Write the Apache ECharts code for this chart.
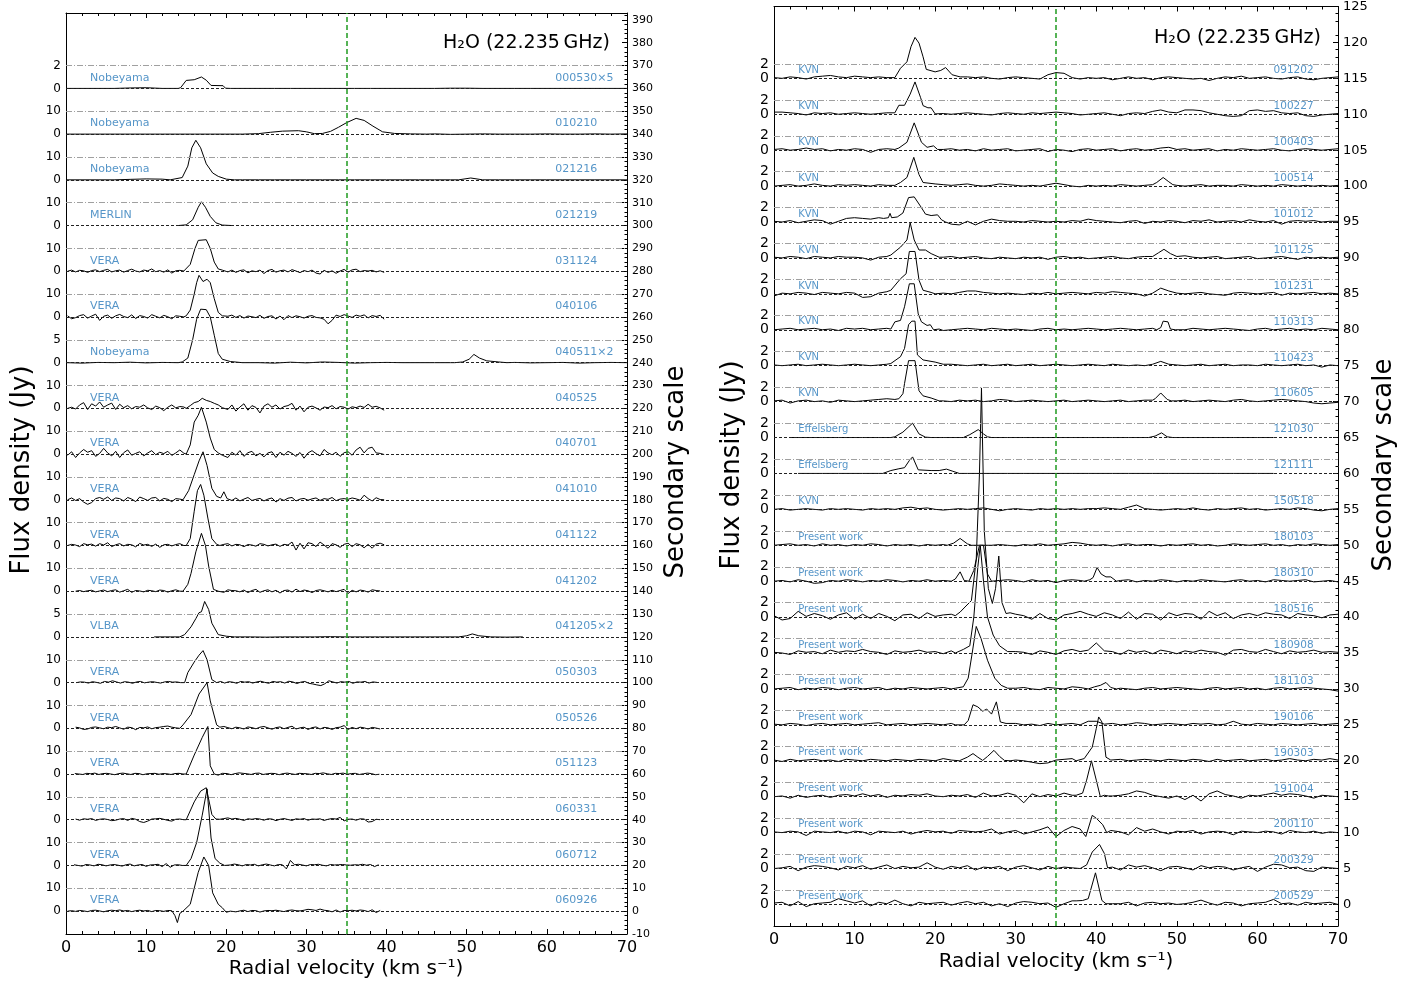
<!DOCTYPE html>
<html><head><meta charset="utf-8">
<script src="https://cdn.jsdelivr.net/npm/echarts@6/dist/echarts.min.js"></script>
<style>html,body{margin:0;padding:0;background:#fff}#c{width:1425px;height:984px}</style>
</head><body><div id="c"></div>
<script>
// ---------------- LEFT PANEL DATA (flux in plotted units, relative to baseline) ----------------
const leftDates = ['000530×5','010210','021216','021219','031124','040106','040511×2','040525','040701','041010','041122','041202','041205×2','050303','050526','051123','060331','060712','060926'];
const leftTels = ['Nobeyama','Nobeyama','Nobeyama','MERLIN','VERA','VERA','Nobeyama','VERA','VERA','VERA','VERA','VERA','VLBA','VERA','VERA','VERA','VERA','VERA','VERA'];
const leftBases = [360,340,320,300,280,260,240,220,200,180,160,140,120,100,80,60,40,20,0];
const leftLevelLabels = ['2','10','10','10','10','10','5','10','10','10','10','10','5','10','10','10','10','10','10'];
const leftStarts = [0,0,0,14,0.2,0.2,0,0.2,0.2,0.2,0.2,1.2,11,1.3,1.2,1.1,1.2,1.0,0.2];
const leftSteps  = [2,2,2,1,0.5,0.5,2,0.5,0.5,0.5,0.5,0.5,2,0.5,0.5,0.5,0.5,0.5,0.5];

const n000530 = [0,0,0,0,0.2,0.3,0,0,0, 0,0,0,0,0,0,0,0,0, 0,0,0,0,0,0,0.1,0.1,0,0, 0,0,0,0,0,0,0,0];
const p000530 = [[[14,0],[14.3,0.3],[15,3.5],[16,3.8],[16.9,5.0],[17.5,3.6],[18.1,1.3],[19.6,1.2],[19.9,0.1],[20.5,0]]];
const n010210 = [0,0,0,0,0,0,0,0,0,0, 0,0.1,0,0,0,0,0,0,0,0, 0,0,0,0.1,-0.1,0,0.1,0,0,0, 0.1,0,0,0.1,0,0.1];
const p010210 = [[[22,0],[24,0.2],[25.5,0.8],[27,1.3],[29,1.5],[30,1.0],[31,0.2],[32,0.3],[33,1.2],[34,3],[35,5],[36.2,6.9],[37.2,6],[38.3,3.5],[39.5,1.0],[41,0.3],[43,0.1],[45,0]]];
const n021216 = [0,0,0,0,0.2,0.4,0.3,0,0,0, 0,0,0,0,0,0,0,0,0,0, 0,0,0,0,0,0,0,0,0,0, 0,0,0,0,0,0];
const p021216 = [[[13,0],[14.5,1],[15.2,6],[15.7,14],[16.2,17.3],[16.8,14],[17.5,7],[18.3,3],[19,1.5],[20,0.3],[21,0]],[[49,0],[50.5,0.8],[52,0]]];
const n021219 = [];
const p021219 = [[[14,0],[15,0.3],[15.8,2.5],[16.5,8],[16.9,10.4],[17.4,8],[18,4],[18.7,1.2],[19.5,0.2],[20.7,0]]];
const n031124 = [0,0.5,-0.3,0.4,0.2,-0.5,0.3,0.6,-0.2,0.4, 0.8,-0.3,0.2,0.5,-0.4,0.3,0.9,0.1,-0.3,0.5, 0.2,1.0,-0.2,0.3,-0.4,0.6,-0.8,0.2,0.4,0.1, 0,0,0,0,0,0,0,0,0,0.6, -0.3,0.5,-0.5,0.3,0.6,-0.7,0.2,-0.2,0.5,-1.0, 0.3,0.8,-0.4,0.2,0.5,-0.3,0.7,0.1,-0.6,0.3, -0.2,0.5,-0.8,-1.2,0.4,-0.5,0.2,-0.9,0.1,0.8, -0.4,0.6,0.9,-0.2,0.3,0.1,0.4,-0.3,0.2,-0.5];
const p031124 = [[[14.8,0],[15.5,3],[16.1,10],[16.5,13.5],[17.5,13.8],[18,10],[18.5,4],[19,1],[19.5,0.5]]];
const n040106 = [0.5,-0.8,-0.3,0.6,1.0,-0.5,0.4,1.2,-1.5,0.3, 0.8,-0.6,0.5,1.1,0.2,-0.3,0.9,-0.7,0.6,0.2, -0.5,1.0,0.3,-0.4,0.7,0.1,-0.8,0.5,0.3,0, 0,0,0,0,0,0,0,0,0,1.0, 0.3,0.8,-0.2,0.6,-0.5,0.4,0.1,-0.3,0.7,-0.6, 0.2,0.5,-0.9,0.4,-1.2,0.6,-0.3,0.5,0.1,-0.5, 0.3,0.6,-0.2,-0.4,-1.0,-3.0,-1.5,0.8,0.2,1.0, 0.4,-0.2,0.8,0.3,0.9,-0.4,0.6,0.2,0.7,-1.0];
const p040106 = [[[15,0.5],[15.5,3],[16,10],[16.3,15],[16.6,18.2],[17.1,15.5],[17.6,16.5],[18,15],[18.5,8],[19,2],[19.5,0.5]]];
const n040511 = [0,-0.2,0.1,0,0.2,-0.1,0.1,0,0,0, 0,0,0,-0.2,0.2,-0.1,0.3,0.1,-0.2,0, 0.1,0,0,0,0,0,0,0,0.1,-0.1, 0,0.1,-0.2,0,0.1,0];
const p040511 = [[[14,0],[14.5,0.3],[15.2,2],[15.8,10],[16.3,19],[16.8,23.4],[17.5,23.2],[18,20],[18.5,12],[19,4],[19.5,1.5],[20.5,0.5],[22,0]],[[48.5,0],[49.5,0.3],[50.3,1.5],[50.9,3.6],[51.6,2],[52.5,0.8],[54,0.3],[55,0]]];
const n040525 = [0,0.5,-0.3,1.5,2.5,-0.5,2.0,1.0,2.8,0.5, 1.5,2.3,-0.5,1.8,0.3,1.2,-0.2,0.8,0.5,1.5, 0.2,-0.5,1.0,0.3,-1.0,0.5,1.5,0.2,0.8,0.6, 0,0,0,0,0,0,0,0,0,0.5, -0.5,1.5,-1.2,0.6,2.0,-0.8,1.2,0.4,-2.0,1.0, 2.0,0.5,1.5,-0.3,0.8,1.2,2.2,-0.8,1.0,-1.5, 0.5,1.0,0.2,-0.8,0.6,0.3,1.2,-0.2,0.8,0.5, -0.3,0.7,0.3,1.0,0.4,1.8,0.5,0.9,0.2,-0.8];
const p040525 = [[[15,0],[15.5,1.2],[16,2.5],[16.5,3],[17,4.4],[17.5,3.5],[18,3],[18.5,2.2],[19,1.5],[19.5,0.3]]];
const n040701 = [-0.5,1.0,-1.5,0.5,2.0,0.8,1.5,-1.0,0.3,2.5, 0.5,-0.8,1.2,-1.5,0.6,1.8,-0.5,0.3,1.0,-0.8, 0.5,1.5,-0.3,0.8,0.2,1.2,-0.6,0.5,1.8,0.4, 0,0,0,0,0,0,0,0,0,-0.5, -1.5,0.8,-0.5,1.5,-1.0,0.6,1.2,-0.8,0.3,-1.2, 0.5,1.0,-1.5,0.8,-0.5,1.2,0.3,-1.0,0.7,-1.8, 0.5,1.5,0.2,-0.8,2.0,0.5,-0.3,0.8,-1.0,0.6, 1.0,-0.5,1.8,3.0,0.5,2.5,3.0,0.5,0.3,-0.2];
const p040701 = [[[15,0],[15.5,4],[16,14],[16.5,17],[16.9,20.5],[17.5,14],[18,7],[18.5,2],[19,0.5],[19.5,-0.5]]];
const n041010 = [0,0.8,-0.3,0.5,-1.0,-2.0,-1.2,0.5,1.0,0.2, 1.2,-0.3,0.8,0.5,-0.5,1.0,0.3,-0.8,1.2,0.5, -0.3,0.8,1.0,-0.5,0.6,0.2,-0.8,0.5,0.3,0, 0,0,0,0,0,0,0,0,0,0, 0.5,-0.3,0.8,-0.5,0.3,1.0,-0.3,0.2,0.6,-0.5, 0.3,0.8,-1.0,0.5,-0.3,0.7,1.0,-0.5,0.3,0.6, -0.2,0.4,0.8,-0.3,0.5,0.2,1.0,-0.4,0.3,0.5, 0.2,0.8,0.4,-0.2,2.0,0.5,-0.5,0.9,0.1,0];
const p041010 = [[[14.6,0],[15.3,4],[16,11],[16.6,17],[17.1,21],[17.6,15],[18.2,5],[18.8,1.5],[19.3,0.8],[19.7,3.5],[20.1,0.5]]];
const n041122 = [0,0.5,0.2,-0.5,0.8,0.3,0.6,-0.3,0.8,0.2, 1.2,-0.5,0.3,0.8,-0.2,0.5,0.3,-0.6,0.9,0.2, 0.5,-0.4,0.6,-0.8,0.3,0.5,-0.2,0.4,0.8,0, 0,0,0,0,0,0,0,0,0,0.5, 0.8,-0.2,0.5,0.3,-0.5,0.4,0.2,-0.3,0.8,0.5, -0.2,0.3,0.6,-0.4,0.5,0.2,1.5,-2.0,1.0,-1.5, 1.2,0.8,-0.5,1.5,0.2,-1.2,0.8,0.3,-0.8,0.5, 1.0,-0.5,0.8,0.3,-1.0,0.5,-1.2,0.6,1.0,0.3];
const p041122 = [[[15,0],[15.5,3],[16,15],[16.4,24],[16.8,26.7],[17.2,22],[17.7,12],[18.2,3],[18.8,0.5],[19.2,0]]];
const n041202 = [0,0.3,-0.2,0.2,0.4,-0.3,0.1,0.5,-0.2,0.3, 0.6,-0.4,0.2,0.8,-0.5,0.3,0.1,-0.3,0.4,0.2, -0.2,0.5,0.3,-0.4,0.2,0.6,0,0,0,0, 0,0,0,0,0,0,0.8,-0.5,0.6,0.3, 0.2,-0.3,0.5,-0.6,0.3,0.8,-0.5,0.2,0.6,-0.3, 0.4,-0.8,0.3,0.5,-0.4,0.9,-0.2,0.5,0.2,-0.6, 0.3,0.6,0.2,-0.3,0.4,-0.2,0.3,0.8,-1.0,0.4, -0.3,0.5,0.2,-0.4,0.6,0.3,0.1];
const p041202 = [[[14.6,0],[15.2,3],[15.6,7.8],[16.2,17.2],[16.9,25.3],[17.4,20],[17.8,11],[18.4,0.8],[19,0]]];
const n041205 = [0,0,0,0,0,0,0,-0.1,0,0, 0,0.1,0,0,0,0,0,0,0,0, 0,0,-0.1,0];
const p041205 = [[[14.2,0],[14.8,1],[15.6,4.4],[16.2,8],[16.6,10.6],[16.9,11],[17.3,15.5],[17.8,12],[18.2,6],[19,1],[20,0.3],[21,0]],[[49,0],[50,0.5],[50.7,1.3],[51.5,0.5],[53,0]]];
const n050303 = [0,0.3,0.2,-0.2,0.4,0.1,-0.3,0.5,0.2,0.8, 0.3,-0.2,0.4,0.2,-0.3,0.3,0.5,-0.1,0.2,0.4, 0.1,-0.2,0.3,0.5,0.2,0.3,0,0,0,0, 0,0,0,0,0,0,0.3,-0.2,0.4,0.2, -0.3,0.5,0.2,0.4,-0.2,0.3,0.6,0.1,-0.3,0.5, 0.2,0.4,-0.2,0.6,0.3,-0.4,0.2,0.5,-0.3,-0.6, -1.0,-1.3,-0.5,0.8,0.3,-0.2,0.4,0.2,0.5,-0.3, 0.3,0.2,0.5,-0.2,0.3,0.1];
const p050303 = [[[15,0],[15.2,4.4],[16,9],[16.6,12],[17.1,14],[17.6,10],[18.2,1.3],[18.8,0],[19.3,0.5]]];
const n050526 = [0.5,0.2,-0.5,-0.3,0.4,0.6,0.2,-0.2,0.5,0.3, 0.8,0.2,-0.4,0.5,0.3,-0.6,0.4,0.2,0.6,-0.2, 0.3,0.5,0.8,1.0,0.5,0.2,0,0,0,0, 0,0,0,0,0,0,0.4,0.8,0.3,-0.2, 0.5,0.2,-0.3,0.6,0.3,-0.2,0.5,0.8,0.2,-0.4, 0.3,0.6,-0.2,0.4,0.9,-0.3,0.2,0.5,-0.5,0.3, 0.6,-0.3,0.4,0.2,-0.5,0.3,0.5,1.2,-0.5,0.4, -0.2,0.5,0.2,-0.3,0.4,0.1,-0.3];
const p050526 = [[[14.3,0],[14.6,1.5],[15.6,6],[16.6,15],[17.6,20],[18,12],[18.8,1.5],[19.2,0.5]]];
const n051123 = [0.2,0,-0.2,0.3,0.1,0.4,-0.2,0.2,0.3,0, -0.3,0.2,0.4,0.1,-0.2,0.3,0.2,-0.3,0.1,0.2, 0.3,-0.1,0.2,0.1,-0.2,0.2,0.3,0,0,0, 0,0,0,0,0,0,0,0.4,0.2,-0.3, 0.2,0.5,0.3,0.1,-0.2,0.3,0.4,-0.2,0.1,0.3, 0.2,-0.3,0.2,0.4,0.1,-0.2,0.3,0.2,0.1,-0.2, 0.3,0.2,0.5,0.1,-0.2,0.3,0.2,0.4,-0.1,0.2, 0.3,-0.2,0.1,0.4,0.2,-0.3,-0.1];
const p051123 = [[[15,0],[16,8.3],[17,16],[17.7,20.8],[18,3.6],[18.5,0],[19,-0.5],[19.5,0.3]]];
const n060331 = [0.3,-0.2,0.4,0.2,0.5,-0.3,0.2,0.4,0.1,-0.4, -0.2,0.3,0.5,-0.3,0.6,0.2,-0.8,-1.2,-0.6,0.3, 0.4,0.6,0.2,-0.3,-0.6,0.2,0.3,0,0,0, 0,0,0,0,0,0,0.2,0.5,0.8,0.3, 0.6,0.2,-0.3,0.4,0.2,0.5,0.3,-0.2,0.4,0.3, -0.4,0.2,0.5,0.1,-0.3,0.4,0.2,0.5,-0.2,0.3, 0.2,0.4,-0.3,0.2,0.5,0.3,1.0,-0.5,0.2,0.3, -0.2,0.4,0.3,-1.0,-0.8,0.2,0];
const p060331 = [[[15,0],[15.2,0.3],[16,7.8],[16.8,12.5],[17.5,14],[18.2,2.3],[18.7,0.3]]];
const n060712 = [0.3,0,-0.3,0.4,0.2,-0.2,0.5,0.3,-0.2,0.2, 0.4,0.1,-0.3,0.3,0.6,-0.2,0.2,0.4,-0.4,0.2, 0.3,0.5,-0.5,0.8,-0.8,0.2,0.3,0,0,0, 0,0,0,0,0,0,0,0,0.4,0.2, 0.6,0.3,-0.2,0.4,0.2,0.5,-0.2,0.3,0.6,0.2, -0.2,0.4,0.3,-1.5,2.2,0.3,0.5,0.2,-0.2,0.4, 0.3,0.5,0.1,-0.2,0.4,0.2,0.3,0.4,0.2,0.1, 0.3,0.2,0.5,0.1,0.4,-0.5,0.3];
const p060712 = [[[15,0],[15.6,3],[16.3,10],[17,22],[17.6,33.5],[18.1,12],[18.6,3],[19.2,1],[19.8,0]]];
const n060926 = [0,0.2,-0.1,0.3,0.1,-0.2,0.3,0.4,0.1,-0.3, 0.2,0.4,0.2,0.5,0.1,0.3,-0.2,0.2,0.4,0.1, 0.3,-0.2,0.3,0.2,-0.1,0.3,0.2,0,0,0, 0,0,0,0,0,0,0,0,0,0, 0,0.2,-0.3,0.1,0.4,-0.2,0.3,0.2,-0.4,0.1, 0.3,0.2,0.4,0.1,-0.2,0.3,0.5,0.2,0.1,0.4, 0.8,0.6,0.3,0.9,0.4,0.2,-0.3,0.5,-0.4,0.3, 0.2,0.4,0.1,0.5,0.3,-0.2,0.6,-0.6,0.3];
const p060926 = [[[13.3,0],[13.6,-2],[13.9,-5],[14.2,-1],[14.6,0],[15.5,3],[16,10],[16.5,17],[17.2,23.7],[17.8,20],[18.3,8],[19,3],[19.5,1.5],[20,-0.5],[20.5,0]]];

const leftNoise = [n000530,n010210,n021216,n021219,n031124,n040106,n040511,n040525,n040701,n041010,n041122,n041202,n041205,n050303,n050526,n051123,n060331,n060712,n060926];
const leftPeaks = [p000530,p010210,p021216,p021219,p031124,p040106,p040511,p040525,p040701,p041010,p041122,p041202,p041205,p050303,p050526,p051123,p060331,p060712,p060926];

// ---------------- RIGHT PANEL DATA (Jy relative to baseline) ----------------
const rightDates = ['091202','100227','100403','100514','101012','101125','101231','110313','110423','110605','121030','121111','150518','180103','180310','180516','180908','181103','190106','190303','191004','200110','200329','200529'];
const rightTels = ['KVN','KVN','KVN','KVN','KVN','KVN','KVN','KVN','KVN','KVN','Effelsberg','Effelsberg','KVN','Present work','Present work','Present work','Present work','Present work','Present work','Present work','Present work','Present work','Present work','Present work'];
const rightBases = [115,110,105,100,95,90,85,80,75,70,65,60,55,50,45,40,35,30,25,20,15,10,5,0];
const rightStarts = [0,0,0,0,0,0,0,0,0,0,2,3,0,0,0,0,0,0,0,0,0,0,0,0];
const rightStep = 1;

const r091202 = [0.1,0,0.2,0.1,-0.1,0.2,0.3,0.4,0.2,0.1, 0.3,0.2,0.1,0.2,0.1,0,0,0,0,0, 0,0,0,0,0.2,0.1,0.2,0,-0.1,0.1, 0.2,0.1,0,-0.1,0.5,0.8,0.7,0.1,-0.1,0.1, 0,0.1,-0.2,0,0.2,0,0.1,-0.2,0.1,0.2, 0.1,0,-0.1,0,-0.3,0,0.2,0.1,0.3,0, 0.1,0.2,0,-0.1,0.1,0.2,-0.1,-0.2,0,0.1,0.2];
const q091202 = [[[15,0.1],[15.7,1.4],[16.5,2.3],[17,4.4],[17.5,5.7],[18,4.9],[18.5,3],[18.9,1.25],[20,0.9],[20.7,1.1],[21.3,1.5],[22.1,0.5],[23.1,0.2]]];
const r100227 = [0.3,0.3,0.2,0.1,-0.1,0.2,0.1,0.2,0,0.1, 0.2,0.1,0,0.1,0.2,0,0,0,0,0, 0,0.1,0,0.1,0.2,0.1,0,-0.1,0.1,0.2, 0.1,0,0.2,0.1,0.2,0.3,0.2,0.1,-0.1,0, 0.1,0.2,0,-0.2,0.1,0.2,0.1,0.4,0.6,0.3, 0.2,0.6,0.6,0.5,0.2,0,-0.2,-0.3,-0.2,0.5, 0.6,0.4,0.5,0.2,0.1,0.2,-0.2,-0.3,-0.1,0,0.1];
const q100227 = [[[15,0.2],[15.5,1.25],[16.2,1.25],[16.9,2.8],[17.5,4.5],[18.2,2.3],[18.5,1.2],[19.1,0.9],[19.5,0.9],[20,0.05]]];
const r100403 = [0.1,0.2,0,0.1,0.3,0.1,0.2,-0.1,0.1,0, 0.2,0.1,-0.3,0.1,0.2,0,0,0,0,0, 0,0.1,0.2,0,0.1,-0.1,0.2,0,0.1,0.2, -0.1,0,0.1,0.2,-0.2,0.1,0,-0.2,0.1,0.2, 0,0.1,0.2,-0.1,0.1,0.2,0,0.1,0.3,0.4, 0.1,0.2,0,0.1,0.2,-0.1,0.1,0,0.2,0.1, 0,0.1,0.2,0,-0.1,0.1,0.2,0.1,0,0.1,0.2];
const q100403 = [[[15,0.1],[15.5,0.3],[16.5,1.1],[17.4,3.8],[18.3,1.1],[19,0.4],[19.8,0.6],[20.3,0.1]]];
const r100514 = [0,0.1,0.2,0,0.1,0.3,0.1,0,0.2,0.1, 0.2,0.1,0,0.2,0.1,0,0,0,0,0, 0.3,0.2,0.1,0.2,0.3,0.1,0,0.1,0.3,0.2, 0.1,0,0.1,0,0.2,0.4,0.2,0,-0.1,0.1, 0,0.1,0,0.2,0.1,0,0.1,0.3,0.8,0.4, 0.1,0,0.1,0.2,0,0.1,0.1,0,0.2,0.1, 0,0.1,0,0.2,0.1,0,0.1,0,0.1,0,0.1];
const q100514 = [[[15,0.1],[15.7,0.5],[16.5,1.2],[17.35,4.0],[18,1.6],[18.5,0.5],[20,0.3]],[[47,0.2],[47.5,0.5],[48.3,1.2],[49,0.6],[49.5,0.2]]];
const r101012 = [0.1,0,0.2,-0.1,0.1,0.3,0.2,-0.3,0.1,0.5, 0.6,0.5,0.4,0.6,0,0,0,0,0,0, 0,0,-0.3,-0.4,0.1,-0.4,0.1,0.4,0.2,0.1, 0.1,0,0.2,0.1,0,0.1,0,0.2,0.1,0.4, 0.2,0.1,0,-0.1,0.1,0.2,-0.2,0.1,0,0.2, 0.1,-0.1,0.2,0.1,0.3,0,0.1,0.2,0,0.3, 0.1,0,0.2,-0.3,0.1,0.2,0.1,0.2,0,0.1,0.1];
const q101012 = [[[13.6,0.5],[14.2,0.6],[14.4,1.2],[14.6,0.6],[15.3,0.7],[16,1.25],[16.7,3.4],[17.4,3.5],[18.3,2.0],[18.8,1.1],[19.5,0.9],[20.3,1.0],[20.8,0.3],[21.3,0]]];
const r101125 = [0.1,0,0.2,0.1,-0.1,0.2,0.1,0,0.2,0.1, 0.1,0,-0.3,0.1,0.2,0,0,0,0,0, 0,0.1,0.2,0,0.1,0.2,0,-0.1,0.1,0, -0.1,0.1,0,0.1,-0.2,0.1,0.2,0,0.1,-0.1, 0,0.1,0.2,0,-0.1,0.1,0.2,0.5,1.0,0.7, 0.2,0.3,0.1,0,0.1,0.2,-0.1,0,0.1,0.2, -0.1,0,0.1,0.2,0,-0.2,0.1,0,0.1,0,0.1];
const q101125 = [[[14.5,0.4],[15.7,1.5],[16.5,2.5],[16.9,4.9],[17.4,2.5],[18,1.1],[18.8,1.1],[19.5,0.6],[20.5,0.1]],[[47,0.2],[47.7,0.7],[48.4,1.2],[49.2,0.6],[50,0.2]]];
const r101231 = [-0.3,0.1,0,0.2,0.1,-0.1,0.2,0.1,0,0.2, 0.1,-0.5,-0.4,0.1,0.3,0,0,0,0,0, 0,0.1,0,0.2,0.4,0.4,0.2,0.1,0,0.1, 0,-0.1,0.1,0,0.2,0,0.1,0.2,0.1,0, 0.2,0.1,0.3,0.2,0.1,0,-0.3,0.1,0.8,0.4, 0.1,0,0.1,0.2,0,-0.1,-0.2,0.1,0.2,0.1, 0,0.1,0.2,-0.2,0.1,0,0.1,0.2,0,0.1,0];
const q101231 = [[[14.5,0.5],[15.7,2.1],[16.4,2.8],[16.8,5.9],[17.5,5.9],[18,1.9],[18.5,0.5],[19.5,0.2]]];
const r110313 = [0,0.1,0.2,0,0.1,0.2,0,0.1,-0.1,0.2, 0.1,0.2,0,0.1,0.2,0,0,0,0,0, 0,-0.1,0,0.1,0.2,0.1,0,0.2,0.1,0, 0.1,0,-0.1,0.1,0.2,0,0.1,0,0.1,0.2, 0.1,0,0.1,0.2,0.1,0,0.1,0.2,0,0, 0.1,0,0.2,0.1,0,0.1,0.2,0.1,0,-0.1, 0.1,0.2,0,0.1,0.2,0,0.1,0,0.2,0.1,0];
const q110313 = [[[14.5,0.1],[15,1.1],[15.7,1.3],[16.2,3.2],[16.8,6.4],[17.4,6.4],[17.9,2.2],[18.3,1.1],[19,0.6],[19.4,0.7],[19.8,0],[20.5,0.1]],[[47.5,0],[48,0.3],[48.3,1.2],[48.9,1.1],[49.2,0.1],[49.8,0]]];
const r110423 = [0.1,0,0.1,0.2,0,0.1,0.2,0.1,0,0.1, 0.2,0.1,0,0.1,0.2,0,0,0,0,0, 0,0,0.2,0.1,0,0.1,0.2,0,0.1,0.2, 0,0.1,0.2,0,0.1,0.2,0.1,0,0.1,0.2, 0.1,0,0.2,0.1,0,0.1,0,0.2,0.6,0.2, 0.1,0,0.1,0.2,0,0.1,0.2,0,0.1,0.1, 0,0.2,0.1,0,0.1,0.2,0,0.1,-0.2,0.1,0];
const q110423 = [[[14.5,0.3],[15.7,1.25],[16.2,2.4],[16.7,5.7],[17.1,6.2],[17.5,6.2],[17.8,1.5],[18.5,0.8],[20,0.5],[21,0.2]]];
const r110605 = [0.1,0.2,-0.2,0.1,0.2,0,0.1,-0.1,0.2,0.1, 0,0.1,0.2,0.3,0.4,0,0,0,0,0, 0,0.1,0,0.2,0.1,0.2,0,0.1,0.3,0.2, 0,0.1,0.2,0.1,0,0.1,0.2,0,0.1,0.2, 0.1,0,0.1,0.2,0,0.1,0.2,0.3,0.9,0.1, 0.1,0.2,0,0.1,0.2,0.1,0,0.2,0.3,0.1, 0,0.1,0.2,0.3,0.2,0.1,0,-0.2,-0.3,-0.2,-0.1];
const q110605 = [[[15,0.3],[15.5,0.4],[16,1.1],[16.2,2.5],[16.7,5.7],[17.5,5.7],[18,1.5],[18.5,0.8],[19.5,0.5],[20.5,0.1]],[[47,0.2],[47.3,0.4],[48,1.2],[48.8,0.3],[49.3,0.1]]];
const r121030 = [0,0,0,0,0,0,0,0,0,0, 0,0,0,0,0,0,0,0,0,0, 0,0,0,0,0,0,0,0,0,0, 0,0,0,0,0,0,0,0,0,0, 0,0,0,0,0,0,0,0,0,0, 0,0,0,0,0,0,0,0,0,0,0];
const q121030 = [[[14.5,0],[15,0.1],[16,0.75],[17.2,2.0],[18,0.5],[18.8,0.05],[19.5,0]],[[23.5,0],[24.3,0.4],[25.35,1.1],[26,0.5],[26.5,0.1],[27,0]],[[46.5,0],[47.3,0.2],[48.1,0.65],[48.8,0.1],[49.5,0]]];
const r121111 = [0,0,0,0,0,0,0,0,0,0, 0,0,0,0,0,0,0,0,0,0, 0,0,0,0,0,0,0,0,0,0, 0,0,0,0,0,0,0,0,0,0, 0,0,0,0,0,0,0,0,0,0, 0,0,0,0,0,0,0,0,0,0];
const q121111 = [[[13.5,0],[14.5,0.4],[15.5,0.65],[16.2,0.8],[16.8,1.8],[17.2,2.3],[17.9,0.5],[19.5,0.4],[20.5,0.4],[21.4,0.6],[22.2,0.3],[23,0],[24,0]]];
const r150518 = [0,0.1,-0.1,0,0.1,0,-0.1,0.1,0,0.1, 0,-0.1,0.1,0,0.1,0,0.2,0.3,0.1,0.2, 0,-0.1,0,0.1,0,0.1,0.2,0,-0.2,0, 0.1,0,-0.1,0.1,0,0.1,0,0.1,0,0.1, 0.1,0.2,0.1,0,0.3,0.6,0.1,0,-0.1,0, 0.1,0,0.2,0,-0.1,0.1,0,0.1,0.2,0, 0.1,-0.1,0,0.1,0,0.2,0.1,-0.1,-0.2,0,0.1];
const q150518 = [];
const r180103 = [0,0.1,0.2,0,0.1,-0.1,0.2,0,0.1,-0.1, 0.1,0,0.2,0.1,-0.1,0.1,0,0.1,-0.1,0.1, 0,0.1,0.2,0,0,0,0,0,0.1,0, -0.1,0.1,0,0.2,0,0.1,0.2,0.4,0.3,0.1, 0,0.1,-0.1,0.1,0.2,0,0.1,0.1,-0.1,0.1, 0,0.1,0.2,0,0.1,-0.1,0,0.2,0.1,0, 0.1,0.2,0,0.1,-0.1,0.1,0,0.2,0.1,0,0.1];
const q180103 = [[[21.5,0],[22.3,0.3],[23.1,0.95],[24,0.2],[24.5,0]]];
const r180310 = [0,0.1,-0.1,0.2,0,-0.3,-0.2,0.1,0,0.2, 0.1,-0.1,0.1,0,0.2,0.1,-0.1,0.1,0,0.2, 0,0.1,0,0,0,0,0,0,0,0.2, 0.1,-0.1,0.2,0,0.1,-0.2,0.1,0.2,0.1,0, 0,0,0,0.1,0.2,-0.1,0.1,0,0.2,0.1, -0.1,0.1,0,0.2,0.1,0,-0.1,0.1,0.2,0, 0.1,-0.1,0.2,0.1,0,0.1,0.2,-0.1,0,0.1,-0.1];
const q180310 = [[[22,0],[22.5,0.3],[23.1,1.3],[23.6,0.1],[24.2,0],[24.8,1.5],[25.5,5.0],[26.0,5.0],[26.5,1],[27,0],[28,0.1]],[[38.5,0],[39.2,0.2],[39.6,0.5],[40.1,1.9],[40.6,1],[41.2,0.6],[41.8,0.6],[42.5,0]]];
const r180516 = [0.2,-0.4,-0.2,0.8,0.1,0.5,0.2,-0.3,0.3,0.6, -0.3,0.4,-0.2,0.5,0.1,-0.5,0.3,0.4,-0.2,0.6, 0.1,0.3,0.4,0,0,0,0,0,0,0.6, 0.4,0.2,-0.3,0.5,-0.2,-0.4,0.3,0.5,0.8,0.4, 0.1,0.6,0.3,-0.2,0.7,-0.3,0.5,0.4,-0.4,0.6, 0.2,0.5,0.4,-0.3,0.8,0.2,0.6,-0.2,0.3,0.5, 0.2,0.6,0.4,0.3,-0.2,0.5,0.3,0.2,-0.1,0.3,0.4];
const q180516 = [[[22.5,0.2],[23.1,0.7],[23.7,1.4],[24.5,2.3],[25.1,8],[25.5,20],[25.75,31.9],[26.1,12],[26.6,4],[27.1,1.9],[27.5,4],[27.9,8.5],[28.3,2],[28.8,0.5],[29.3,0.6]]];
const r180908 = [0.1,0,-0.2,0.3,0.1,0.2,-0.1,0.4,0.1,0.3, 0.2,0.5,0.2,0.1,-0.2,0.3,0.1,0.2,0.4,0.1, 0.2,-0.1,0.3,0,0,0,0,0,0,0, 0.2,0.1,-0.2,0.3,0.1,-0.2,0.3,0.5,0.2,0.4, 1.4,0.3,0.2,-0.2,0.4,0.1,0.3,-0.1,0.4,0.2, -0.1,0.3,0.1,0.4,0.2,0.1,-0.3,0.4,0.5,0.2, 0.1,0.5,0.2,-0.1,0.3,0.1,0.2,0.4,0.1,0.2,0.1];
const q180908 = [[[22.5,0],[23.5,0.5],[24.3,1.0],[24.8,5],[25.3,12],[25.6,15],[26,10],[26.5,5],[27.2,2.5],[28,1],[29,0.2]]];
const r181103 = [0,0.1,0.2,-0.1,0.1,0,0.2,0.1,-0.1,0.1, 0.2,0,0.1,0.2,-0.1,0.1,0,0.2,0.1,0, 0.1,0.2,0,0,0,0,0,0,0,0, 0.1,0.2,0,-0.1,0.2,0.1,0,0.3,0.2,0.1, 0,0,0.2,0.1,0,-0.1,0.1,0.2,0,0.1, 0.2,0.1,0,-0.1,0.1,0.2,0,0.1,0.2,0, 0.1,-0.1,0.1,0.2,0,0.1,0.2,0.1,0,-0.1,-0.3];
const q181103 = [[[22.5,0.1],[23.5,0.3],[24.1,1.5],[24.6,5],[25.1,8.7],[25.7,7],[26.5,4],[27.4,1.5],[28.2,0.5],[29,0.1]],[[39,0],[39.8,0.3],[40.5,0.5],[41.2,0.9],[41.8,0.2],[42.5,0]]];
const r190106 = [0.1,0,0.2,0.1,-0.1,0.1,0.2,0,0.1,0.2, 0,0.1,0.2,0.3,0,0.1,0.2,0,0.1,0.2, 0.1,0,0.2,0,0,0,0,0,0,0.1, 0.2,0,0.1,-0.1,0.2,0,0.1,0.2,0,0.5, 0.5,0.1,0.2,0,0.1,0.3,0.2,0,0.1,0.2, 0.1,0,0.2,0.1,0.2,0,0.1,0.5,0.1,0, 0.2,0.1,0,0.2,0.1,0,0.1,0.2,0,0.1,0.2];
const q190106 = [[[22.5,0],[23.6,0],[24.1,0.6],[24.7,2.8],[25.3,2.5],[25.9,1.9],[26.4,2.2],[27.0,1.5],[27.6,3.2],[28.1,0.4],[28.8,0.2]]];
const r190303 = [0.1,-0.1,0.2,0,0.1,0.2,0,0.1,-0.1,0.2, 0.1,0,0.2,0.1,0,0.2,0.1,0,0.2,0.1, 0,0.3,0.1,0,0,0,0,0,0,0, 0.1,0,-0.2,-0.4,-0.3,0.1,0.2,0.3,0,0, 0,0,0.1,0.2,0,0.1,0.2,0.1,0,0.2, 0.1,0,0.2,0.1,-0.1,0.2,0,0.1,0.2,0, 0.1,0.2,0,0.1,0.3,0.1,0,0.2,0.1,0.3,0.1];
const q190303 = [[[23,0],[24,0.5],[24.7,1.0],[25.3,0.5],[25.9,0.05],[26.5,0.6],[27.3,1.45],[28,0.6],[28.6,0.05],[29.3,0]],[[37.5,0],[38.5,0.3],[39.5,1.9],[40.0,4.5],[40.3,6.1],[40.7,5.4],[41.2,0.5],[41.8,0.1]]];
const r191004 = [0,0.1,-0.2,0.2,-0.1,0.1,0.2,-0.1,0.2,0.3, 0.1,0.4,0.1,0.3,-0.1,0.2,0.1,0.3,0.2,0.4, 0.1,0,0.2,0.1,0.3,-0.1,0.5,0.1,0.2,0.5, 0.2,-0.85,0.4,0,0.3,0.1,0.5,0.2,0,0, 0,0,0.1,0.2,0.4,0.8,0.6,0.2,0,-0.2, 0.1,-0.4,0.2,-0.6,0.4,0.8,0.3,0.1,-0.2,0.2, 0.1,0.3,0.5,0.2,0.4,0.3,0.1,-0.2,0.2,0.1,0];
const q191004 = [[[37.5,0.2],[38.3,0.5],[38.8,2.3],[39.4,5.0],[40.0,2.3],[40.5,0],[41,0.2],[41.5,0.1]]];
const r200110 = [0.1,0,0.2,0.1,-0.4,0.2,0.1,0,0.2,-0.1, 0.2,0.1,-0.3,0.2,0.1,0,0.2,-0.2,0.1,0.3, 0.1,0.2,-0.1,0.3,0.2,0.1,0.2,0.5,-0.2,0.1, 0.3,-0.2,0.1,0.4,0.8,-0.55,0.3,0.85,0,0, 0,0,0.5,0.1,-0.3,0.7,0.2,0.5,0.1,-0.2, 0.2,0.1,0.3,-0.2,0.1,0.2,0.1,-0.3,0.2,0.1, 0,0.2,0.1,-0.2,0.3,0.1,0,0.2,-0.1,0.1,0];
const q200110 = [[[38,0.5],[38.7,-0.55],[39.5,2.4],[40,2.0],[40.8,1.1],[41.3,0],[41.8,0.3]]];
const r200329 = [0,0.1,0.3,-0.3,0.2,0.4,0.3,0.1,-0.2,0.3, 0.1,0.4,-0.1,0.2,0.5,0,0.3,0.1,0.2,0.8, 0.2,-0.1,0.3,0.1,0.4,-0.2,0.2,0.1,0.3,-0.3, 0.2,0.4,0.1,-0.2,0.3,0,0.2,0.1,0,0, 0,0,0.3,-0.2,0.5,0.2,0.4,0.1,-0.3,0.2, 0.3,0.1,-0.2,0.4,0.1,0.3,0.2,-0.2,0.1,0.3, -0.4,0.2,0.6,0.5,0.1,0.2,-0.3,-0.4,0.2,0.1,0];
const q200329 = [[[38,0],[38.8,0.5],[39.5,2.3],[40.4,3.35],[41.0,2.1],[41.4,0.1],[42,0.2]]];
const r200529 = [0.2,0.3,-0.2,0.4,-0.3,0.1,0.2,0.3,0.8,0.5, 0.2,0.5,-0.2,0.3,0.1,0.6,0.1,-0.2,0.3,0.1, 0.2,0.3,-0.1,0.2,0.4,0.1,0.3,-0.2,0.1,-0.3, 0.2,0.4,0.3,0.1,0.2,-0.4,0.1,0.5,0,0, 0,0,0.2,0.1,0.3,-0.2,0.2,0.3,0.1,0.2, 0,0.1,0.3,0.6,0.2,-0.1,0.3,0.2,-0.2,0.1, 0.2,0.3,0.7,0.1,0.2,-0.1,0.3,0.1,0.2,0.3,0];
const q200529 = [[[37.5,0.5],[38.3,0.55],[39,0.8],[39.9,4.4],[40.7,0.55],[41.2,0.1],[42,0.1]]];

const rightNoise = [r091202,r100227,r100403,r100514,r101012,r101125,r101231,r110313,r110423,r110605,r121030,r121111,r150518,r180103,r180310,r180516,r180908,r181103,r190106,r190303,r191004,r200110,r200329,r200529];
const rightPeaks = [q091202,q100227,q100403,q100514,q101012,q101125,q101231,q110313,q110423,q110605,q121030,q121111,q150518,q180103,q180310,q180516,q180908,q181103,q190106,q190303,q191004,q200110,q200329,q200529];

// tick values of the secondary scales
const leftSecTicks = [-10,0,10,20,30,40,50,60,70,80,90,100,110,120,130,140,150,160,170,180,190,200,210,220,230,240,250,260,270,280,290,300,310,320,330,340,350,360,370,380,390];
const rightSecTicks = [0,5,10,15,20,25,30,35,40,45,50,55,60,65,70,75,80,85,90,95,100,105,110,115,120,125];
const markerVelocity = 35;

// ---------------- BUILD ----------------
function buildPts(start, step, noise, segs) {
  const pts = [];
  noise.forEach((f, i) => {
    const v = +(start + i * step).toFixed(3);
    if (!segs.some(s => v >= s[0][0] && v <= s[s.length - 1][0])) pts.push([v, f]);
  });
  segs.forEach(s => s.forEach(p => pts.push(p)));
  pts.sort((a, b) => a[0] - b[0]);
  return pts;
}
const FONT = 'DejaVu Sans';
const BLUE = '#2b7bba';
const series = [];

function refSeries(xi, yi, bases, lvl) {
  const data = [];
  bases.forEach(b => {
    data.push({yAxis: b + lvl, lineStyle: {color: '#a0a0a0', type: [6, 2, 1, 2], width: 1}});
    data.push({yAxis: b, lineStyle: {color: '#222', type: [3, 2], width: 1}});
  });
  data.push({xAxis: markerVelocity, lineStyle: {color: '#1f9a1f', type: [5, 3], width: 1.5}});
  return {type: 'line', xAxisIndex: xi, yAxisIndex: yi, data: [[0, -1000]], showSymbol: false, silent: true, z: 1,
    lineStyle: {opacity: 0},
    markLine: {silent: true, symbol: ['none', 'none'], label: {show: false}, animation: false, data: data}};
}
series.push(refSeries(0, 1, leftBases, 10));
series.push(refSeries(2, 3, rightBases, 2));

leftBases.forEach((b, i) => {
  const pts = buildPts(leftStarts[i], leftSteps[i], leftNoise[i], leftPeaks[i]);
  series.push({type: 'line', xAxisIndex: 0, yAxisIndex: 1, data: pts.map(p => [p[0], b + p[1]]),
    showSymbol: false, silent: true, z: 3, lineStyle: {color: '#000', width: 1}});
});
rightBases.forEach((b, i) => {
  const pts = buildPts(rightStarts[i], rightStep, rightNoise[i], rightPeaks[i]);
  series.push({type: 'line', xAxisIndex: 2, yAxisIndex: 3, data: pts.map(p => [p[0], b + p[1]]),
    showSymbol: false, silent: true, z: 3, lineStyle: {color: '#000', width: 1}});
});
function labelSeries(xi, yi, vx, bases, dy, texts, size) {
  return {type: 'scatter', xAxisIndex: xi, yAxisIndex: yi, symbolSize: 0, silent: true, z: 4,
    data: bases.map((b, i) => [vx, b + dy, texts[i]]),
    label: {show: true, position: 'inside', align: 'left', verticalAlign: 'middle', color: BLUE,
      fontFamily: FONT, fontSize: size, formatter: p => p.value[2]}};
}
series.push(labelSeries(0, 1, 3.0, leftBases, 4.6, leftTels, 11));
series.push(labelSeries(0, 1, 61.05, leftBases, 4.6, leftDates, 11));
series.push(labelSeries(2, 3, 3.0, rightBases, 1.1, rightTels, 10));
series.push(labelSeries(2, 3, 62.0, rightBases, 1.1, rightDates, 10.5));

const leftFluxVals = [], leftFluxMap = {};
leftBases.forEach((b, i) => { leftFluxVals.push(b, b + 10); leftFluxMap[b] = '0'; leftFluxMap[b + 10] = leftLevelLabels[i]; });
const rightFluxVals = [], rightFluxMap = {};
rightBases.forEach(b => { rightFluxVals.push(b, b + 2); rightFluxMap[b] = '0'; rightFluxMap[b + 2] = '2'; });

const axisLine = {show: true, onZero: false, lineStyle: {color: '#000', width: 1}};
function xAxes(gi) {
  const common = {type: 'value', gridIndex: gi, min: 0, max: 70, interval: 10, splitLine: {show: false},
    axisLine: axisLine, minorTick: {show: true, splitNumber: 5, length: 3, lineStyle: {color: '#000'}},
    axisTick: {show: true, inside: true, length: 5, lineStyle: {color: '#000'}}};
  return [
    Object.assign({}, common, {position: 'bottom', axisLabel: {color: '#000', fontFamily: FONT, fontSize: 16, margin: 6}}),
    Object.assign({}, common, {position: 'top', axisLabel: {show: false}})
  ];
}
const option = {
  animation: false,
  backgroundColor: '#fff',
  grid: [
    {left: 66, right: 798, top: 13, bottom: 50},
    {left: 774, right: 87, top: 6, bottom: 58}
  ],
  xAxis: xAxes(0).concat(xAxes(1)),
  yAxis: [
    {type: 'value', gridIndex: 0, position: 'left', min: -10, max: 393, splitLine: {show: false}, axisLine: axisLine,
      axisTick: {show: false},
      axisLabel: {customValues: leftFluxVals, formatter: v => leftFluxMap[Math.round(v)] || '', color: '#000', fontFamily: FONT, fontSize: 12, margin: 5}},
    {type: 'value', gridIndex: 0, position: 'right', min: -10, max: 393, interval: 10, splitLine: {show: false}, axisLine: axisLine,
      axisTick: {show: true, inside: true, length: 5, customValues: leftSecTicks, lineStyle: {color: '#000'}},
      minorTick: {show: true, splitNumber: 5, length: 2.5, lineStyle: {color: '#000'}},
      axisLabel: {customValues: leftSecTicks, color: '#000', fontFamily: FONT, fontSize: 11, margin: 5}},
    {type: 'value', gridIndex: 1, position: 'left', min: -3, max: 125, splitLine: {show: false}, axisLine: axisLine,
      axisTick: {show: false},
      axisLabel: {customValues: rightFluxVals, formatter: v => rightFluxMap[Math.round(v)] || '', color: '#000', fontFamily: FONT, fontSize: 14, margin: 5}},
    {type: 'value', gridIndex: 1, position: 'right', min: -3, max: 125, interval: 5, splitLine: {show: false}, axisLine: axisLine,
      axisTick: {show: true, inside: true, length: 5, customValues: rightSecTicks, lineStyle: {color: '#000'}},
      minorTick: {show: true, splitNumber: 5, length: 2.5, lineStyle: {color: '#000'}},
      axisLabel: {customValues: rightSecTicks, color: '#000', fontFamily: FONT, fontSize: 13, margin: 5}}
  ],
  title: [
    {text: 'H\u2082O (22.235\u2009GHz)', right: 810, top: 29, textStyle: {fontFamily: FONT, fontSize: 19, fontWeight: 'normal', color: '#000'}},
    {text: 'H\u2082O (22.235\u2009GHz)', right: 99, top: 24, textStyle: {fontFamily: FONT, fontSize: 19, fontWeight: 'normal', color: '#000'}}
  ],
  graphic: [
    {type: 'text', x: 22, y: 470, rotation: Math.PI / 2, style: {text: 'Flux density (Jy)', font: '26px "DejaVu Sans"', fill: '#000', textAlign: 'center', textVerticalAlign: 'middle'}},
    {type: 'text', x: 676, y: 472, rotation: Math.PI / 2, style: {text: 'Secondary scale', font: '26px "DejaVu Sans"', fill: '#000', textAlign: 'center', textVerticalAlign: 'middle'}},
    {type: 'text', x: 732, y: 465, rotation: Math.PI / 2, style: {text: 'Flux density (Jy)', font: '26px "DejaVu Sans"', fill: '#000', textAlign: 'center', textVerticalAlign: 'middle'}},
    {type: 'text', x: 1384, y: 465, rotation: Math.PI / 2, style: {text: 'Secondary scale', font: '26px "DejaVu Sans"', fill: '#000', textAlign: 'center', textVerticalAlign: 'middle'}},
    {type: 'text', x: 346, y: 969, style: {text: 'Radial velocity (km s\u207B\u00B9)', font: '20px "DejaVu Sans"', fill: '#000', textAlign: 'center', textVerticalAlign: 'middle'}},
    {type: 'text', x: 1056, y: 962, style: {text: 'Radial velocity (km s\u207B\u00B9)', font: '20px "DejaVu Sans"', fill: '#000', textAlign: 'center', textVerticalAlign: 'middle'}}
  ],
  series: series
};
const chart = echarts.init(document.getElementById('c'), null, {renderer: 'canvas'});
chart.setOption(option);
</script></body></html>
